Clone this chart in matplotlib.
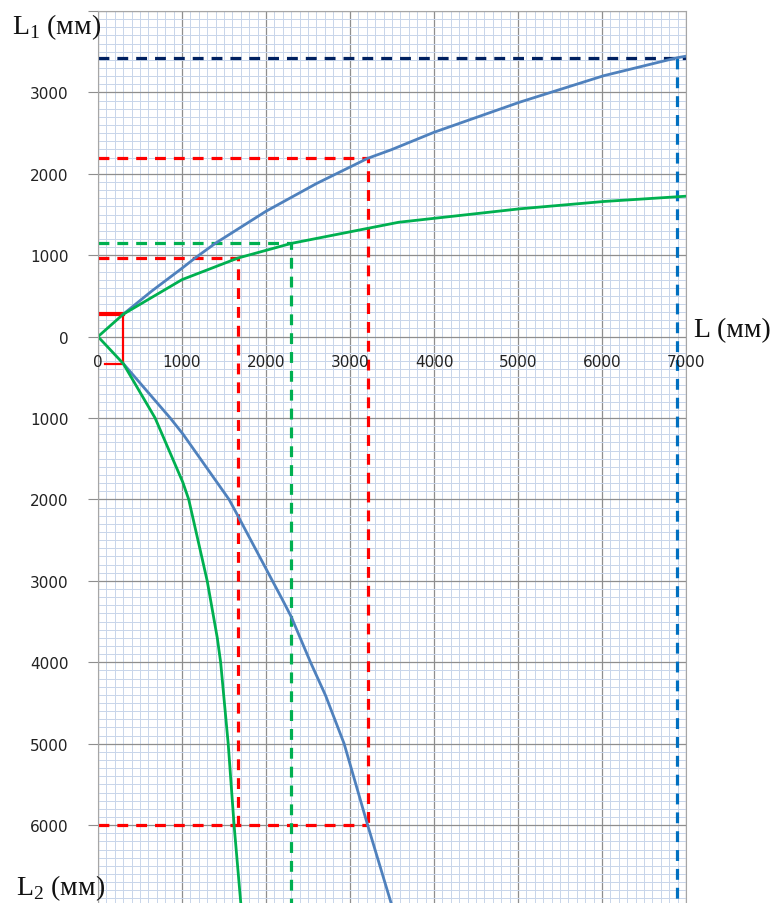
import matplotlib
matplotlib.use("Agg")
import matplotlib.pyplot as plt
from matplotlib.ticker import MultipleLocator, FuncFormatter

plt.rcParams['mathtext.fontset'] = 'custom'
plt.rcParams['mathtext.rm'] = 'Liberation Serif'

# curves (x = L, y = L1 above the axis, -L2 below it)
blue_up_x = [300, 640, 1000, 1155, 1395, 2000, 2600, 3210, 3490, 4000, 5020, 6020, 6890, 7000]
blue_up_y = [275, 560, 840, 965, 1145, 1540, 1880, 2190, 2295, 2510, 2880, 3205, 3425, 3445]
green_up_x = [0, 300, 1000, 1665, 2300, 3210, 3580, 5020, 6020, 7000]
green_up_y = [0, 275, 700, 965, 1145, 1330, 1405, 1570, 1660, 1725]
blue_dn_x = [300, 860, 1010, 1560, 1665, 2190, 2300, 2530, 2710, 2930, 3210, 3490]
blue_dn_y = [-330, -1000, -1195, -2000, -2200, -3220, -3440, -4000, -4410, -5000, -6000, -6960]
green_dn_x = [0, 300, 680, 1010, 1080, 1300, 1420, 1460, 1550, 1620, 1700]
green_dn_y = [0, -330, -1000, -1790, -2000, -3000, -3700, -4000, -5000, -6000, -6960]

# construction lines
red_box_x = [0, 300, 300, 80]
red_box_y = [275, 275, -330, -330]
navy_level = 3425
blue_vert_x = 6890
red_hi = (3210, 2190)
red_lo = (1665, 965)
green_mid = (2300, 1145)
red_bottom = -6000

x_ticks = [0, 1000, 2000, 3000, 4000, 5000, 6000, 7000]

W, H = 771, 904
fig = plt.figure(figsize=(W / 100, H / 100), dpi=100)
ax = fig.add_axes([98 / W, 0, 588 / W, 1 - 12 / H])
ax.set_xlim(0, 7000)
ax.set_ylim(-6957, 4000)

ax.xaxis.set_major_locator(MultipleLocator(1000))
ax.xaxis.set_minor_locator(MultipleLocator(100))
ax.yaxis.set_major_locator(MultipleLocator(1000))
ax.yaxis.set_minor_locator(MultipleLocator(100))
ax.grid(which='minor', color='#c8d5ea', lw=0.7)
ax.grid(which='major', color='#8e8e8e', lw=0.9)
ax.set_axisbelow(True)

ax.yaxis.set_major_formatter(FuncFormatter(
    lambda v, p: '' if v > 3500 or v < -6500 else '%d' % abs(v)))
ax.tick_params(axis='y', which='major', length=7, color='#8e8e8e', labelsize=11,
               pad=14, labelcolor='#222222')
ax.tick_params(axis='y', which='minor', length=0)
ax.tick_params(axis='x', which='both', length=0, labelbottom=False)
for s in ['left', 'top', 'right']:
    ax.spines[s].set_color('#a6a6a6')
ax.spines['bottom'].set_visible(False)

for xt in x_ticks:
    ax.text(xt, -300, str(xt), ha='center', va='center', fontsize=11, color='#222222')

dash = dict(lw=2.3, dashes=(3.4, 2.5))
ax.plot([0, 7000], [navy_level, navy_level], color='#002060', **dash)
ax.plot([blue_vert_x, blue_vert_x], [navy_level, -6957], color='#0070c0', **dash)
ax.plot([0, red_hi[0], red_hi[0]], [red_hi[1], red_hi[1], red_bottom], color='#ff0000', **dash)
ax.plot([0, red_hi[0]], [red_bottom, red_bottom], color='#ff0000', **dash)
ax.plot([0, red_lo[0], red_lo[0]], [red_lo[1], red_lo[1], red_bottom], color='#ff0000', **dash)
ax.plot([0, green_mid[0], green_mid[0]], [green_mid[1], green_mid[1], -6957], color='#00b050', **dash)

ax.plot(red_box_x[:2], red_box_y[:2], color='#ff0000', lw=3)
ax.plot(red_box_x[1:], red_box_y[1:], color='#ff0000', lw=1.6)

ax.plot(blue_up_x, blue_up_y, color='#4f81bd', lw=2)
ax.plot(blue_dn_x, blue_dn_y, color='#4f81bd', lw=2)
ax.plot(green_up_x, green_up_y, color='#00b050', lw=2)
ax.plot(green_dn_x, green_dn_y, color='#00b050', lw=2)

lab = dict(family='Liberation Serif', fontsize=20, color='#111111', va='baseline', ha='left')
fig.text(12 / W, 1 - 34 / H, r'$\mathrm{L}_{\mathrm{1}}$ (мм)', **lab)
fig.text(16 / W, 1 - 895 / H, r'$\mathrm{L}_{\mathrm{2}}$ (мм)', **lab)
fig.text(694 / W, 1 - 337 / H, 'L (мм)', **lab)

fig.savefig('out.png', dpi=100)
